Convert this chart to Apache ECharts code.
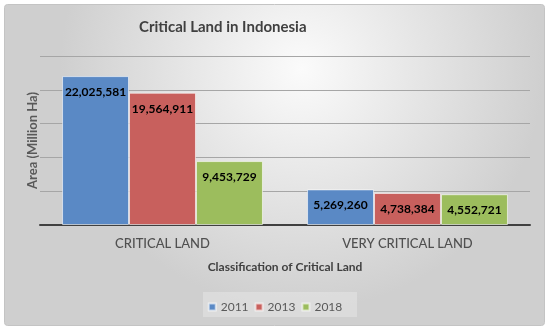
<!DOCTYPE html>
<html><head><meta charset="utf-8">
<script src="https://cdn.jsdelivr.net/npm/echarts@6/dist/echarts.min.js"></script>
<style>html,body{margin:0;padding:0;background:#fff}#c{width:550px;height:332px}</style>
</head><body><div id="c"></div>
<script>
const categories = ['CRITICAL LAND', 'VERY CRITICAL LAND'];
const seriesNames = ['2011', '2013', '2018'];
const values2011 = [22025581, 5269260];
const values2013 = [19564911, 4738384];
const values2018 = [9453729, 4552721];
const yTicks = [0, 5000000, 10000000, 15000000, 20000000, 25000000];

const colors = ['#5A89C5', '#C8605D', '#9CBD5D'];
const fontFam = 'Lato, "Open Sans", sans-serif';
const chart = echarts.init(document.getElementById('c'));
const fmt = v => v.toLocaleString('en-US');
const mk = (name, data, i) => ({
  name, type: 'bar', data,
  barGap: '0%', barCategoryGap: '18%',
  itemStyle: { color: colors[i], borderColor: 'rgba(255,255,255,0.6)', borderWidth: 1 },
  label: { show: true, position: 'insideTop', distance: 10, formatter: p => fmt(p.value),
    color: '#000', fontWeight: 'bold', fontSize: 12, fontFamily: fontFam },
  emphasis: { disabled: true }
});
chart.setOption({
  animation: false,
  graphic: [{
    type: 'rect', z: -10, silent: true,
    shape: { x: 4.5, y: 4.5, width: 540, height: 321, r: 3 },
    style: {
      fill: { type: 'radial', x: 0.55, y: 0.2, r: 0.75, colorStops: [
        { offset: 0, color: '#fbfbfb' }, { offset: 1, color: '#cfcfcf' }] },
      stroke: '#c4c4c4', lineWidth: 1
    }
  }, {
    type: 'rect', z: -5, silent: true,
    shape: { x: 203, y: 292, width: 154, height: 25 },
    style: { fill: 'rgba(255,255,255,0.25)' }
  }],
  title: {
    text: 'Critical Land in Indonesia', left: 134, top: 15,
    textStyle: { fontFamily: fontFam, fontSize: 15, fontWeight: 'bold', color: '#404040' }
  },
  legend: {
    data: seriesNames, top: 296, left: 'center', itemWidth: 7, itemHeight: 7, itemGap: 6,
    icon: 'rect', textStyle: { fontFamily: fontFam, fontSize: 12, color: '#595959' }
  },
  grid: { left: 40, right: 20, top: 56, bottom: 107 },
  xAxis: {
    type: 'category', data: categories,
    name: 'Classification of Critical Land', nameLocation: 'middle', nameGap: 36,
    nameTextStyle: { fontFamily: fontFam, fontSize: 12, fontWeight: 'bold', color: '#404040' },
    axisLine: { lineStyle: { color: '#404040', width: 2 } },
    axisTick: { show: false },
    axisLabel: { fontFamily: fontFam, fontSize: 13, color: '#505050', margin: 12, fontWeight: 500 }
  },
  yAxis: {
    type: 'value', min: 0, max: 25000000, interval: 5000000,
    name: 'Area (Million Ha)', nameLocation: 'middle', nameGap: 1, nameRotate: 90,
    nameTextStyle: { fontFamily: fontFam, fontSize: 13, fontWeight: 'bold', color: '#595959' },
    axisLabel: { show: false }, axisLine: { show: false }, axisTick: { show: false },
    splitLine: { lineStyle: { color: '#a6a6a6', width: 1 } }
  },
  series: [mk(seriesNames[0], values2011, 0), mk(seriesNames[1], values2013, 1), mk(seriesNames[2], values2018, 2)]
});
</script></body></html>
